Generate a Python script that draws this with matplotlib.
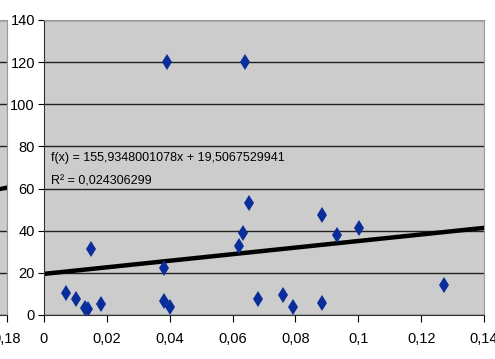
import matplotlib
matplotlib.use("Agg")
import matplotlib.pyplot as plt
from matplotlib.ticker import FuncFormatter, MultipleLocator
import numpy as np

# scatter values
share = [0.0391, 0.0641, 0.0150, 0.0070, 0.0101, 0.0131, 0.0141, 0.0181,
         0.0381, 0.0381, 0.0401, 0.0652, 0.0632, 0.0622, 0.0883, 0.0932,
         0.1002, 0.0682, 0.0762, 0.0792, 0.0883, 0.1273]
value = [120, 120, 31.2, 10.6, 7.7, 3.2, 2.7, 5.1,
         22.5, 6.6, 3.9, 53.3, 38.8, 32.7, 47.6, 37.8,
         41.4, 7.4, 9.6, 3.9, 5.8, 14.1]

# trend line as printed on the chart
slope = 155.9348001078
intercept = 19.5067529941
r_squared = "0,024306299"

# the neighbouring chart that is cut off at the left edge
left_trend_x = [0.16, 0.18]
left_trend_y = [57.0, 60.5]

plt.rcParams.update({
    'font.family': ['Liberation Sans Narrow', 'Liberation Sans', 'DejaVu Sans'],
    'font.size': 10,
})

def comma(v, pos):
    return ('%g' % v).replace('.', ',')

def style_axes(ax):
    ax.set_facecolor('#cccccc')
    ax.set_ylim(0, 140)
    ax.yaxis.set_major_locator(MultipleLocator(20))
    ax.xaxis.set_major_locator(MultipleLocator(0.02))
    ax.xaxis.set_major_formatter(FuncFormatter(comma))
    ax.grid(True, axis='y', color='#222222', linewidth=1.0)
    ax.set_axisbelow(True)
    for side in ['left', 'bottom']:
        ax.spines[side].set_color('#333333')
    for side in ['right', 'top']:
        ax.spines[side].set_color('#999999')
    ax.tick_params(axis='y', length=4, width=0.8, pad=2.5, labelsize=10.5)
    ax.tick_params(axis='x', length=5, width=0.8, pad=7, labelsize=10.5)

fig = plt.figure(figsize=(4.95, 3.59), dpi=100)

# partial left chart, only its last tick reaches into the picture
ax0 = fig.add_axes([-0.6, 0.1226, 0.6 + 7 / 495, 0.8217])
style_axes(ax0)
ax0.set_xlim(0, 0.18)
ax0.set_xticks([0.18])
ax0.set_yticklabels([])
ax0.tick_params(axis='y', length=0)
ax0.plot(left_trend_x, left_trend_y, color='black', linewidth=3)

# main chart
ax = fig.add_axes([44 / 495, 0.1226, 440 / 495, 0.8217])
style_axes(ax)
ax.set_xlim(0, 0.14)

xs = np.array([0, 0.14])
ax.plot(xs, slope * xs + intercept, color='black', linewidth=3.2, zorder=2)
ax.plot(share, value, linestyle='none', marker='d', markersize=8.5,
        color='#0a2d9c', markeredgewidth=0, zorder=3)

ax.text(0.0022, 74.5, "f(x) = 155,9348001078x + 19,5067529941", fontsize=9, va='center')
ax.text(0.0022, 63.3, "R\u00b2 = " + r_squared, fontsize=9, va='center')

fig.savefig("out.png", dpi=100)
